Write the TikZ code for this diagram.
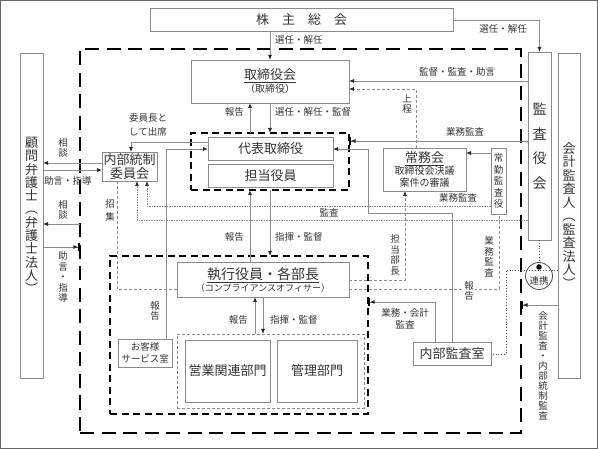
\documentclass[tikz,border=0pt]{standalone}
\usepackage{fontspec}
\setmainfont{Noto Sans CJK JP}
\usetikzlibrary{arrows.meta,calc}
\definecolor{boxgray}{HTML}{8A8A8A}
\definecolor{txt}{HTML}{333333}
\definecolor{lgray}{HTML}{8C8C8C}
\begin{document}
\begin{tikzpicture}[x=1pt,y=-1pt,
  box/.style={draw=boxgray,line width=0.8pt,anchor=north west,inner sep=0pt,outer sep=0pt,text=txt,align=center},
  region/.style={anchor=north west,inner sep=0pt,outer sep=0pt},
  thickdash/.style={draw=black,line width=1.7pt,dash pattern=on 7pt off 4.5pt},
  conn/.style={draw=lgray,line width=0.8pt},
  tip/.style={-{Latex[length=5pt,width=4pt,color=black!85]}},
  bartip/.style={-{Latex[length=5pt,width=4pt,color=black!85]Bar[width=8pt,line width=1.6pt,color=black]}},
  dotline/.style={draw=black!70,line width=0.8pt,dotted},
  dashline/.style={draw=lgray,line width=0.7pt,dash pattern=on 3pt off 2pt},
  ddline/.style={draw=lgray,line width=0.7pt,dash pattern=on 2pt off 1.2pt on 0.6pt off 1.2pt},
  lbl/.style={text=txt,font=\fontsize{9.5}{10.5}\selectfont,inner sep=0pt,align=center},
  big/.style={font=\fontsize{13}{15}\selectfont},
]
\useasboundingbox (0,0) rectangle (598,449);
\draw[black!60,line width=1pt] (0.5,0.5) rectangle (597.5,448.5);

% regions
\node[region,draw=black,line width=2pt,dash pattern=on 14pt off 7.5pt,minimum width=441pt,minimum height=384pt] (outer) at (80,49) {};
\node[region,thickdash,minimum width=158pt,minimum height=57pt] (inner) at (191,133) {};
\node[region,thickdash,minimum width=258pt,minimum height=158pt] (lower) at (110,256) {};
\node[region,draw=boxgray,line width=0.7pt,dash pattern=on 3pt off 2pt,minimum width=187pt,minimum height=74pt] (dept) at (177,334) {};

% boxes
\node[box,big,minimum width=303pt,minimum height=23pt] (kabu) at (150,8) {株\hspace{13pt}主\hspace{13pt}総\hspace{13pt}会};
\node[box,minimum width=158pt,minimum height=43pt] (tori) at (191,60) {{\fontsize{13}{16}\selectfont\underline{取締役会}}\\[1pt]{\fontsize{10}{12}\selectfont（取締役）}};
\node[box,big,minimum width=125pt,minimum height=23pt] (daihyo) at (208,137) {代表取締役};
\node[box,big,minimum width=125pt,minimum height=23pt] (tanto) at (208,164) {担当役員};
\node[box,font=\fontsize{13}{14}\selectfont,minimum width=55pt,minimum height=29pt] (naibu) at (102,152) {内部統制\\委員会};
\node[box,font=\fontsize{13}{13.3}\selectfont,minimum width=23pt,minimum height=325pt] (komon) at (20,53) {顧\\問\\弁\\護\\士\\︵\\弁\\護\\士\\法\\人\\︶};
\node[box,font=\fontsize{14}{24.5}\selectfont,minimum width=23pt,minimum height=188pt] (kansa) at (528,52) {監\\査\\役\\会};
\node[box,font=\fontsize{13}{13.5}\selectfont,minimum width=22pt,minimum height=325pt] (kaikei) at (558,53) {会\\計\\監\\査\\人\\︵\\監\\査\\法\\人\\︶};
\node[box,minimum width=83pt,minimum height=43pt] (jomu) at (383,148) {{\fontsize{13}{15}\selectfont\underline{常務会}}\\{\fontsize{10}{12}\selectfont 取締役会決議}\\{\fontsize{10}{12}\selectfont 案件の審議}};
\node[box,font=\fontsize{9.5}{11.5}\selectfont,minimum width=15pt,minimum height=66pt] (jokin) at (491,148) {常\\勤\\監\\査\\役};
\node[box,minimum width=172pt,minimum height=35pt] (shikko) at (177,262) {{\fontsize{14}{16}\selectfont\underline{執行役員・各部長}}\\{\fontsize{9}{11}\selectfont（コンプライアンスオフィサー）}};
\node[box,big,minimum width=85pt,minimum height=62pt] (eigyo) at (185,340) {営業関連部門};
\node[box,big,minimum width=80pt,minimum height=62pt] (kanri) at (277,340) {管理部門};
\node[box,font=\fontsize{9.5}{12}\selectfont,minimum width=54pt,minimum height=28pt] (okyaku) at (118,339) {お客様\\サービス室};
\node[box,big,minimum width=78pt,minimum height=23pt] (naibukansa) at (413,342) {内部監査室};
\node[circle,draw=black!70,line width=0.8pt,minimum size=27pt,inner sep=0pt,
  label={[lbl,yshift=-4.5pt]center:連携}] (renkei) at (539,276) {};
\node[circle,fill=black,inner sep=0pt,minimum size=5.5pt] (dot) at (539,267) {};

% connectors
\draw[conn,tip] (kabu.east |- 0,20) -- (kansa.north |- 0,20) -- (kansa.north);
\node[lbl] (l1) at (503,29) {選任・解任};
\draw[conn,tip] (kabu.south -| 270,0) -- (tori.north -| 270,0);
\node[lbl,anchor=west] (l2) at (275,40) {選任・解任};
\draw[conn,tip] (tori.south -| 270,0) -- (inner.north -| 270,0);
\node[lbl,anchor=west] (l3) at (275,112) {選任・解任・監督};
\draw[conn,tip] (inner.north -| 250,0) -- (tori.south -| 250,0);
\node[lbl,anchor=east] (l4) at (244,112) {報告};
\draw[conn,tip] (kansa.west |- 0,81) -- (tori.east |- 0,81);
\node[lbl] (l5) at (457,72) {監督・監査・助言};
\draw[dashline,tip] (jomu.north -| 416,0) -- (416,89) -- (tori.east |- 0,89);
\node[lbl] (l6) at (407,104) {上\\程};
\draw[conn,bartip] (kansa.west |- 0,141) -- (inner.east |- 0,141);
\node[lbl] (l7) at (465,132) {業務監査};
\draw[conn,tip] (naibukansa.north -| 452,0) -- (452,213) -- (368,213) -- (368,149) -- (daihyo.east |- 0,149);
\draw[conn,tip] (jokin.west |- 0,153) -- (jomu.east |- 0,153);
\draw[conn,tip] (daihyo.west |- 0,142) -- (131,142) -- (naibu.north -| 131,0);
\node[lbl,font=\fontsize{9.5}{14}\selectfont] (l10) at (148,125) {委員長と\\して出席};
\draw[conn,tip] (okyaku.north -| 166,0) -- (166,149) -- (daihyo.west |- 0,149);
\node[lbl] (l11) at (155,311) {報\\告};
\draw[conn,tip] (naibu.west |- 0,163) -- (komon.east |- 0,163);
\node[lbl] (l12) at (63,148) {相\\談};
\draw[conn,tip] (komon.east |- 0,170) -- (naibu.west |- 0,170);
\node[lbl] (l13) at (68,181) {助言・指導};
\draw[conn,tip] (outer.west |- 0,224) -- (komon.east |- 0,224);
\node[lbl] (l14) at (63,210) {相\\談};
\draw[conn,bartip] (komon.east |- 0,247) -- (outer.west |- 0,247);
\node[lbl] (l15) at (63,277) {助\\言\\・\\指\\導};
\draw[ddline,tip] (kansa.west |- 0,220) -- (137,220) -- (naibu.south -| 137,0);
\node[lbl] (l16) at (329,213) {監査};
\draw[ddline,tip] (jokin.west |- 0,206) -- (147,206) -- (naibu.south -| 147,0);
\node[lbl] (l17) at (458,198) {業務監査};
\draw[dashline] (naibu.south -| 117,0) -- (117,289) -- (shikko.west |- 0,289);
\node[lbl,font=\fontsize{9.5}{13}\selectfont] (l18) at (110,210) {招\\集};
\draw[dashline] (shikko.east |- 0,289) -- (499,289) -- (jokin.south -| 499,0);
\node[lbl] (l19a) at (489,257) {業\\務\\監\\査};
\node[lbl,fill=white,inner sep=1pt] (l19b) at (469,291) {報\\告};
\draw[dashline,tip] (shikko.east |- 0,280) -- (405,280) -- (jomu.south -| 405,0);
\node[lbl] (l20) at (395,255) {担\\当\\部\\長};
\draw[conn,tip] (shikko.north -| 250,0) -- (inner.south -| 250,0);
\node[lbl,anchor=east] (l21) at (244,237) {報告};
\draw[conn,tip] (inner.south -| 270,0) -- (lower.north -| 270,0);
\node[lbl,anchor=west] (l22) at (275,237) {指揮・監督};
\draw[conn,tip] (dept.north -| 255,0) -- (shikko.south -| 255,0);
\node[lbl,anchor=east] (l23) at (248,320) {報告};
\draw[conn,tip] (shikko.south -| 263,0) -- (dept.north -| 263,0);
\node[lbl,anchor=west] (l24) at (270,320) {指揮・監督};
\draw[conn,bartip] (naibukansa.north -| 435,0) -- (435,302) -- (lower.east |- 0,302);
\node[lbl,font=\fontsize{9.5}{12}\selectfont] (l25) at (405,319) {業務・会計\\監査};
\draw[conn,bartip] (kaikei.west |- 0,305) -- (outer.east |- 0,305);
\node[lbl,font=\fontsize{9.5}{10}\selectfont] (l26) at (543,366) {会\\計\\監\\査\\・\\内\\部\\統\\制\\監\\査};
\draw[dotline] (kansa.south -| dot) -- (dot);
\draw[dotline] (kaikei.west |- 0,270) -- (506,270) -- (506,354) -- (naibukansa.east |- 0,354);
\end{tikzpicture}
\end{document}
